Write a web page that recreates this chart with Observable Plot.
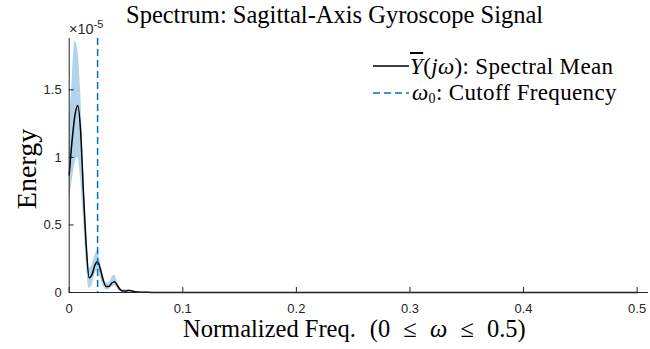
<!DOCTYPE html>
<html><head><meta charset="utf-8">
<script src="https://cdn.jsdelivr.net/npm/d3@7"></script>
<script src="https://cdn.jsdelivr.net/npm/@observablehq/plot@0.6"></script>
<style>
body{margin:0;background:#fff;}
#wrap{position:relative;width:650px;height:349px;overflow:hidden;background:#fff;}
#wrap > svg{position:absolute;left:0;top:0;}
.ser{font-family:"Liberation Serif","Times New Roman",serif;color:#000;position:absolute;white-space:nowrap;line-height:1;}
#title{left:126px;top:3px;font-size:24.5px;}
#xlab{left:183px;top:317px;font-size:24.5px;}
#xlab .rel{margin:0 7px;}
#ylab{left:-23px;top:155px;font-size:28px;transform:rotate(-90deg);transform-origin:50% 50%;width:100px;text-align:center;}
#exp{position:absolute;left:69px;top:21px;font-family:"Liberation Sans",Arial,sans-serif;font-size:14.5px;line-height:16px;color:#262626;}
#exp sup{font-size:11px;line-height:0;}
#legend{position:absolute;left:373px;top:53px;}
.lrow{display:flex;align-items:center;height:26.5px;}
.lrow svg{margin-right:1px;display:block;}
.lrow .lt{font-family:"Liberation Serif","Times New Roman",serif;font-size:23px;letter-spacing:0.35px;line-height:1;white-space:nowrap;}
.lrow sub{font-size:14px;line-height:0;vertical-align:-3px;}
.ybar{text-decoration:overline;}
</style></head><body><div id="wrap">
<div id="title" class="ser">Spectrum: Sagittal-Axis Gyroscope Signal</div>
<div id="xlab" class="ser">Normalized Freq.<span style="margin-left:14px">(0 <span class="rel">≤</span> <i>ω</i> <span class="rel">≤</span> 0.5)</span></div>
<div id="ylab" class="ser">Energy</div>
<div id="exp">×10<sup>-5</sup></div>
<div id="legend">
 <div class="lrow"><svg width="36" height="10"><line x1="0" y1="5" x2="36" y2="5" stroke="#000" stroke-width="1.5"/></svg><span class="lt"><i class="ybar">Y</i>(<i>jω</i>): Spectral Mean</span></div>
 <div class="lrow"><svg width="38" height="10"><line x1="0" y1="5" x2="36" y2="5" stroke="#0072BD" stroke-width="1.5" stroke-dasharray="7,4"/></svg><span class="lt"><i>ω</i><sub>0</sub>: Cutoff Frequency</span></div>
</div>
</div>
<script>
// Normalized frequency samples
const freq   = [0, 0.0025, 0.005, 0.0075, 0.010, 0.0125, 0.015, 0.0175, 0.020, 0.0225, 0.025, 0.0275, 0.030, 0.0325, 0.035, 0.0375, 0.040, 0.0425, 0.045, 0.0475, 0.050, 0.0525, 0.055, 0.0575, 0.060, 0.065, 0.070, 0.080, 0.100, 0.200, 0.300, 0.400, 0.500];
// Spectral mean (×1e-5)
const meanE  = [0.87, 1.12, 1.31, 1.385, 1.20, 0.75, 0.35, 0.11, 0.13, 0.20, 0.23, 0.17, 0.09, 0.045, 0.045, 0.07, 0.08, 0.05, 0.02, 0.012, 0.012, 0.015, 0.012, 0.006, 0.003, 0.002, 0.001, 0.0005, 0.0003, 0.0001, 0.0001, 0.0001, 0.0001];
// Band lower / upper (×1e-5)
const lowerE = [0.68, 0.82, 0.95, 1.00, 0.85, 0.55, 0.22, 0.03, 0.05, 0.13, 0.16, 0.11, 0.05, 0.02, 0.02, 0.04, 0.05, 0.03, 0.01, 0.005, 0.005, 0.008, 0.006, 0.003, 0.001, 0.001, 0.0005, 0.0002, 0.0001, 0, 0, 0, 0];
const upperE = [1.25, 1.55, 1.86, 1.80, 1.50, 0.95, 0.48, 0.18, 0.20, 0.27, 0.31, 0.22, 0.13, 0.07, 0.07, 0.11, 0.13, 0.08, 0.035, 0.02, 0.02, 0.022, 0.018, 0.01, 0.005, 0.003, 0.002, 0.001, 0.0006, 0.0002, 0.0002, 0.0002, 0.0002];
const cutoff = 0.025;
const xTicks = [0, 0.1, 0.2, 0.3, 0.4, 0.5];
const yTicks = [0, 0.5, 1, 1.5];

const data = freq.map((f, i) => ({f, m: meanE[i], lo: lowerE[i], hi: upperE[i]}));
const axisColor = "#262626";
const chart = Plot.plot({
  width: 650, height: 349,
  marginLeft: 68.7, marginRight: 2, marginTop: 38, marginBottom: 57,
  x: {domain: [0, 0.51]},
  y: {domain: [0, 1.88]},
  style: {fontFamily: "'Liberation Sans', Arial, sans-serif", fontSize: "13px", color: axisColor, background: "transparent"},
  marks: [
    Plot.areaY(data, {x: "f", y1: "lo", y2: "hi", fill: "#0072BD", fillOpacity: 0.3, curve: "monotone-x"}),
    Plot.lineY(data, {x: "f", y: "m", stroke: "black", strokeWidth: 1.5, curve: "monotone-x"}),
    Plot.ruleX([cutoff], {stroke: "#0072BD", strokeWidth: 1.5, strokeDasharray: "7,4"}),
    Plot.axisX({ticks: xTicks, tickSize: -5, tickPadding: 16, label: null, tickFormat: d => String(d), stroke: axisColor}),
    Plot.axisY({ticks: yTicks, tickSize: -5, tickPadding: 12.5, label: null, tickFormat: d => String(d), stroke: axisColor}),
    Plot.ruleY([0], {stroke: axisColor}),
    Plot.ruleX([0], {stroke: axisColor})
  ]
});
document.getElementById("wrap").prepend(chart);
</script>
</body></html>
